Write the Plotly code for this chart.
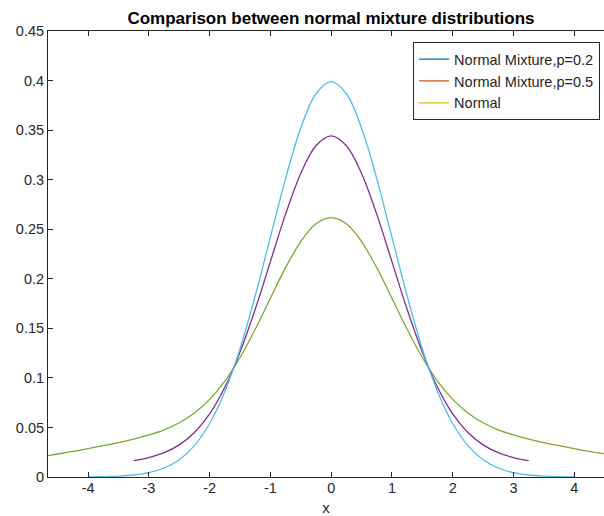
import plotly.graph_objects as go

# x grid (right half, mirrored for the left half)
x_half = [0, 0.25, 0.5, 0.75, 1.0, 1.25, 1.5, 1.75, 2.0, 2.25, 2.5, 2.75, 3.0, 3.25,
          3.5, 3.75, 4.0, 4.25, 4.5, 4.75]

# Standard normal (light blue), x in [0, 4]
blue_half = [0.3989, 0.3867, 0.3521, 0.3011, 0.2420, 0.1827, 0.1295, 0.0863, 0.0540,
             0.0317, 0.0175, 0.0091, 0.0044, 0.0020, 0.0009, 0.0004, 0.0001]
# Purple curve, x in [0, 3.25]
purple_half = [0.3441, 0.3342, 0.3063, 0.2652, 0.2173, 0.1692, 0.1260, 0.0905, 0.0637,
               0.0449, 0.0324, 0.0245, 0.0196, 0.0165]
# Green curve, x in [0, 4.75]
green_half = [0.2618, 0.2555, 0.2376, 0.2112, 0.1804, 0.1491, 0.1206, 0.0968, 0.0783,
              0.0646, 0.0547, 0.0476, 0.0424, 0.0382, 0.0347, 0.0316, 0.0286, 0.0258,
              0.0232, 0.0207]

x_tickvals = [-4, -3, -2, -1, 0, 1, 2, 3, 4]
x_ticktext = ["-4", "-3", "-2", "-1", "0", "1", "2", "3", "4"]

legend_names = ["Normal Mixture,p=0.2", "Normal Mixture,p=0.5", "Normal"]
legend_colors = ["#0072BD", "#D95319", "#EDB120"]
curve_colors = ["#4DBEEE", "#7E2F8E", "#77AC30"]


def mirror(xs, ys):
    n = len(ys)
    xr = xs[:n]
    return [-v for v in xr[::-1]] + xr[1:], ys[::-1] + ys[1:]


fig = go.Figure()
for ys, col in zip([green_half, purple_half, blue_half], [curve_colors[2], curve_colors[1], curve_colors[0]]):
    xx, yy = mirror(x_half, ys)
    fig.add_trace(go.Scatter(x=xx, y=yy, mode="lines", line=dict(color=col, width=1.3, shape="spline"),
                             showlegend=False, hoverinfo="skip"))

for name, col in zip(legend_names, legend_colors):
    fig.add_trace(go.Scatter(x=[None], y=[None], mode="lines", name=name,
                             line=dict(color=col, width=1.3)))

font_family = "Liberation Sans, Arial, sans-serif"
fig.update_layout(
    width=604, height=516,
    margin=dict(l=48, r=0, t=31, b=39),
    paper_bgcolor="white", plot_bgcolor="white",
    font=dict(family=font_family, size=14.5, color="#262626"),
    title=dict(text="<b>Comparison between normal mixture distributions</b>",
               xref="paper", x=0.509, xanchor="center", y=1 - 18 / 516, yanchor="middle",
               font=dict(size=17, color="black")),
    legend=dict(x=0.993, xanchor="right", y=0.975, yanchor="top",
                bgcolor="white", bordercolor="#262626", borderwidth=1,
                font=dict(size=14.5, color="#262626"), tracegroupgap=0,
                itemwidth=30),
    showlegend=True,
)
fig.update_xaxes(range=[-4.66, 4.49], tickvals=x_tickvals, ticktext=x_ticktext,
                 ticks="inside", ticklen=5, tickcolor="#262626", showgrid=False, zeroline=False,
                 showline=True, linecolor="#262626", linewidth=1, mirror="ticks",
                 tickfont=dict(size=14.5), ticklabelstandoff=-2,
                 title=dict(text="x", standoff=8, font=dict(size=15)))
fig.update_yaxes(range=[0, 0.45], dtick=0.05, tick0=0,
                 ticks="inside", ticklen=5, tickcolor="#262626", showgrid=False, zeroline=False,
                 showline=True, linecolor="#262626", linewidth=1, mirror=False,
                 tickfont=dict(size=14.5), ticklabelstandoff=0)

fig.write_html("out.html")
